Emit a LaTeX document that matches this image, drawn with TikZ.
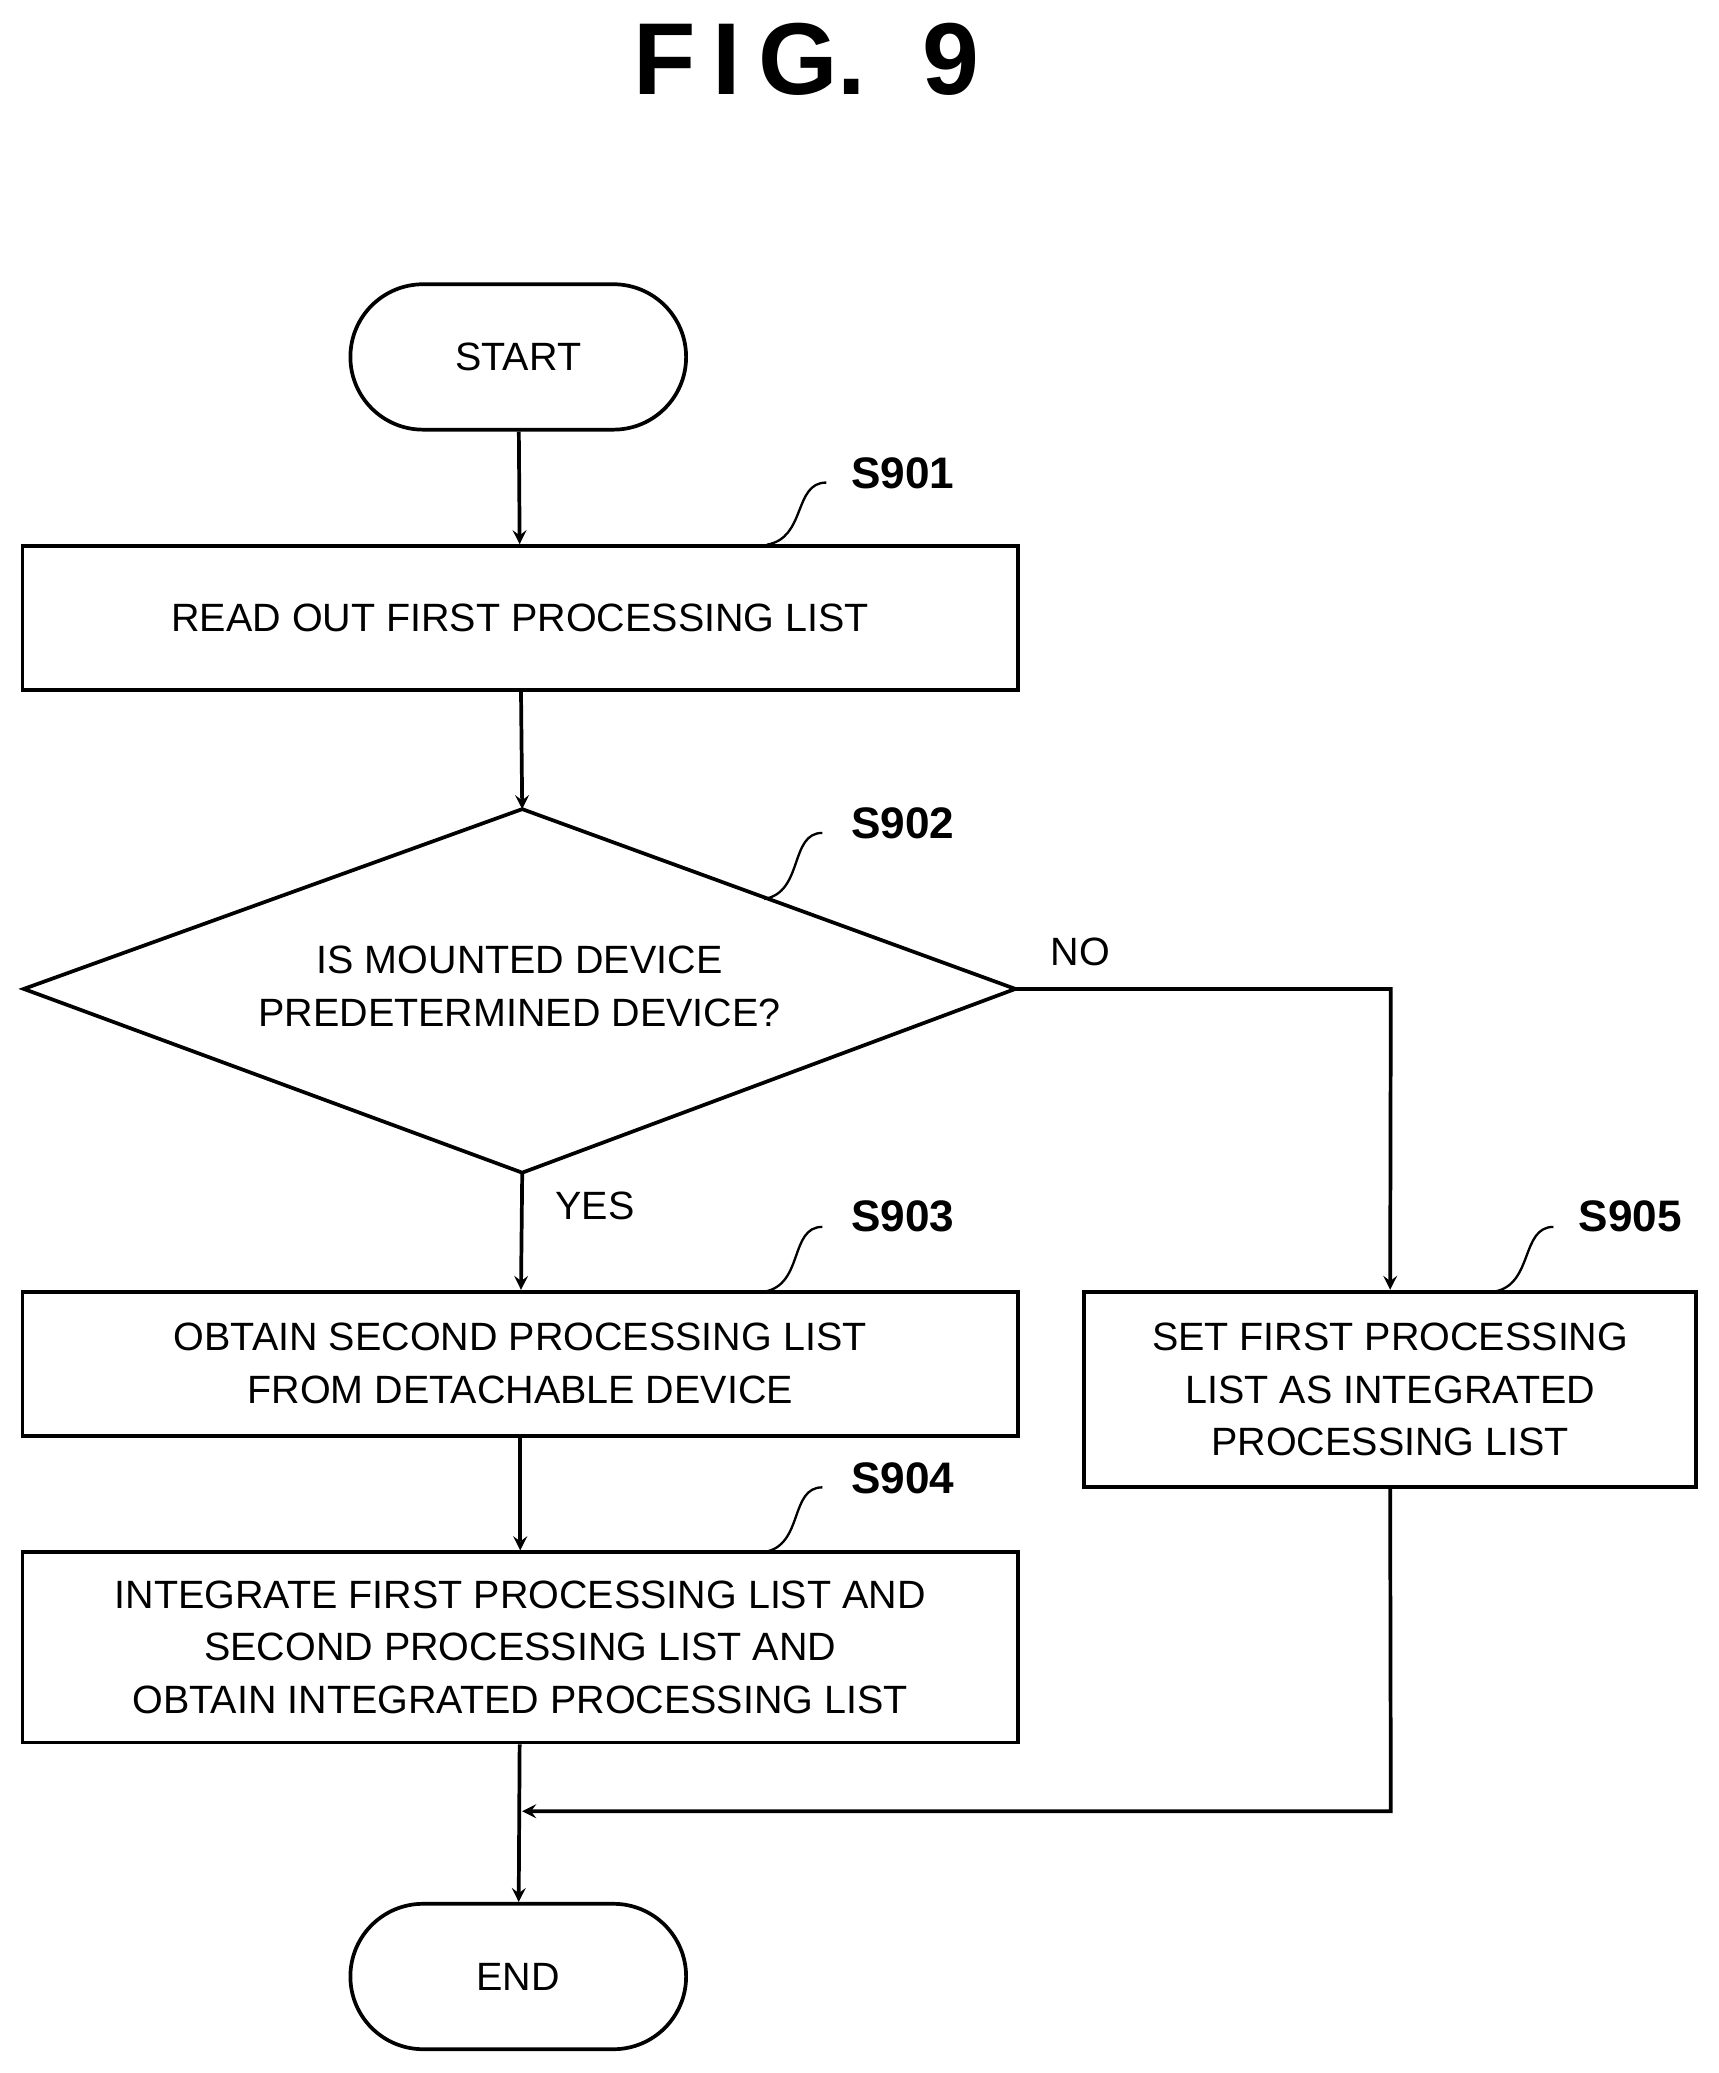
\documentclass[tikz,border=0pt]{standalone}
\usepackage{fontspec}
\setmainfont{Liberation Sans}
\usetikzlibrary{calc}
\begin{document}
\begin{tikzpicture}[x=0.02cm,y=-0.02cm,
  line width=1.6pt,
  every node/.style={font=\fontsize{17}{22.7}\selectfont},
  box/.style={draw,rectangle,align=center,inner sep=0pt},
  term/.style={draw,rectangle,rounded corners=1.1cm,minimum width=5.08cm,minimum height=2.2cm},
  lab/.style={font=\fontsize{19}{22}\selectfont\bfseries},
  arr/.style={->,>=stealth},
  lead/.style={line width=1pt}]
\useasboundingbox (0,0) rectangle (1300,1568);
\node[font=\fontsize{44}{50}\selectfont\bfseries] (title) at (610,45) {F\,I\,G.\ \ 9};
\node[term] (start) at (392,270) {START};
\node[box,minimum width=15.06cm,minimum height=2.18cm] (s901) at (393.5,467.5) {READ OUT FIRST PROCESSING LIST};
\coordinate (dt) at (395,612);
\coordinate (dr) at (768,748);
\coordinate (db) at (395,887);
\coordinate (dl) at (18,748);
\draw (dt)--(dr)--(db)--(dl)--cycle;
\node[align=center] (dtext) at (393,746) {IS MOUNTED DEVICE\\PREDETERMINED DEVICE?};
\node[box,minimum width=15.06cm,minimum height=2.18cm] (s903) at (393.5,1031.5) {OBTAIN SECOND PROCESSING LIST\\FROM DETACHABLE DEVICE};
\node[box,minimum width=15.06cm,minimum height=2.88cm] (s904) at (393.5,1246) {INTEGRATE FIRST PROCESSING LIST AND\\SECOND PROCESSING LIST AND\\OBTAIN INTEGRATED PROCESSING LIST};
\node[box,minimum width=9.26cm,minimum height=2.96cm] (s905) at (1051.5,1051) {SET FIRST PROCESSING\\LIST AS INTEGRATED\\PROCESSING LIST};
\node[term] (end) at (392,1495) {END};
\node[lab] (l901) at (683,358) {S901};
\node[lab] (l902) at (683,623) {S902};
\node[lab] (l903) at (683,920) {S903};
\node[lab] (l904) at (683,1118) {S904};
\node[lab] (l905) at (1233,920) {S905};
\node (no) at (817,720) {NO};
\node (yes) at (450,912) {YES};
\coordinate (c1) at (580,412); \coordinate (c1b) at (625,365);
\coordinate (c2) at (578,680); \coordinate (c2b) at (622,630);
\coordinate (c3) at (578,977); \coordinate (c3b) at (622,928);
\coordinate (c4) at (578,1174); \coordinate (c4b) at (622,1125);
\coordinate (c5) at (1130,977); \coordinate (c5b) at (1175,928);
\foreach \a/\b in {c1/c1b,c2/c2b,c3/c3b,c4/c4b,c5/c5b}
  \draw[lead] (\a) .. controls ($(\a)+(30,-5)$) and ($(\b)+(-25,0)$) .. (\b);
\draw[arr] (start) -- (s901);
\draw[arr] (s901) -- (dt);
\draw[arr] (db) -- (s903);
\draw[arr] (s903) -- (s904);
\coordinate (nr) at (1052,748);
\draw[arr] (dr) -- (nr) -- (s905.north);
\coordinate (m1) at (1052,1370);
\coordinate (m2) at (395,1370);
\draw[arr] (s905.south) -- (m1) -- (m2);
\draw[arr] (s904) -- (end);
\end{tikzpicture}
\end{document}
